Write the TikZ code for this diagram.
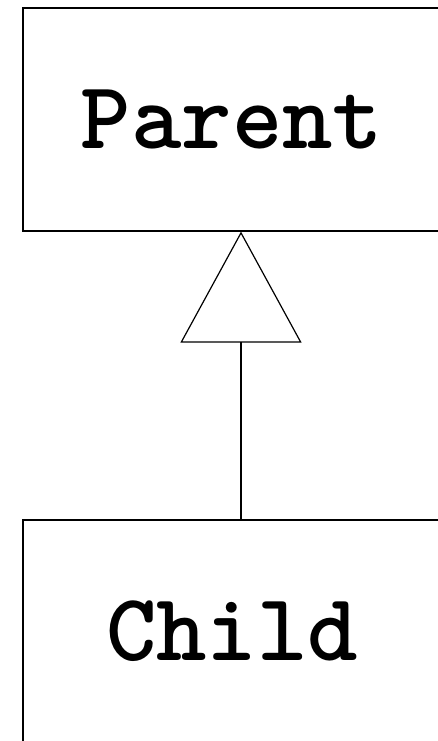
\documentclass[tikz,border=0pt]{standalone}
\usepackage{fontspec}
\usepackage{tikz}
\usetikzlibrary{arrows.meta,positioning}

\begin{document}
\begin{tikzpicture}[
        x=1pt,
        y=-1pt,
        font=\ttfamily\bfseries\fontsize{96}{110}\selectfont,
        classbox/.style={
            draw,
            line width=1.2pt,
            minimum width=418pt,
            minimum height=223pt,
            inner sep=0pt,
            align=center
        },
        inherits/.style={
            -{Triangle[open,length=111pt,width=121pt,line width=1.2pt]},
            line width=1.2pt
        }
    ]

        \useasboundingbox (0,0) rectangle (438,741);

        % Klassen
        \node[classbox] (parent) at (232,119.5) {Parent};
        \node[classbox] (child)  at (232,631.5) {Child};

        % Vererbung
        \coordinate (child-top) at (child.north -| 241,0);
        \coordinate (parent-bottom) at (parent.south -| 241,0);

        \draw[inherits]
            (child-top) -- (parent-bottom);

    \end{tikzpicture}
\end{document}
